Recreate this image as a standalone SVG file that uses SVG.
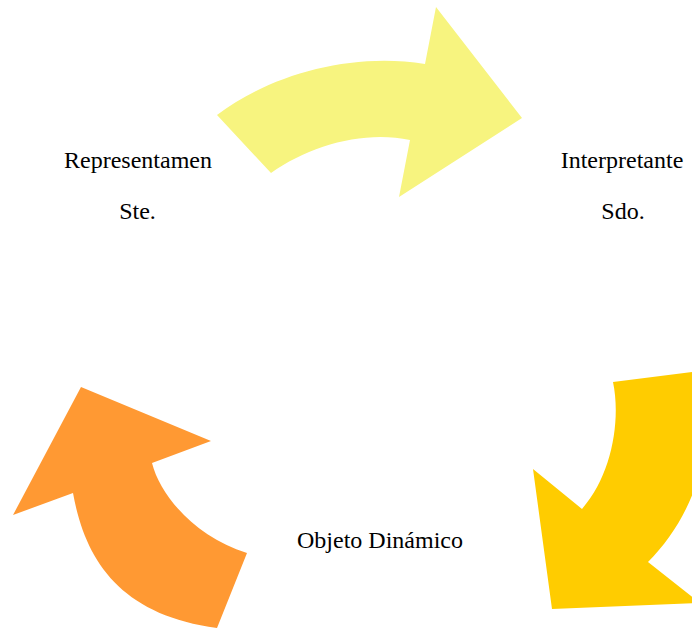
<svg xmlns="http://www.w3.org/2000/svg" width="692" height="630" viewBox="0 0 692 630">
  <style>
    .label { font-family: "Liberation Serif", "Times New Roman", serif; font-size: 24px; fill: #000; text-anchor: middle; }
  </style>
  <rect width="692" height="630" fill="#ffffff"/>
  <!-- curved arrows of the sign cycle -->
  <g id="connectors">
    <path id="arrow-top" fill="#F7F47F" d="M217,115 C270,75 350,52 425,64 L436,7 L522,118 L399,197 L410,140 C365,130 310,145 271,173 Z"/>
    <path id="arrow-right" fill="#FFCC00" d="M613,382 C621,420 612,475 582,509 L533,469 L552,609 L700,603 L648,562 C672,538 692,505 700,470 L700,371 Z"/>
    <path id="arrow-left" fill="#FF9933" d="M81,387 L211,441 L152,463 C160,495 195,537 247,553 L217,628 C120,615 85,560 73,493 L13,515 Z"/>
  </g>
  <g id="representamen">
    <text class="label" x="138" y="168">Representamen</text>
    <text class="label" x="137.5" y="219">Ste.</text>
  </g>
  <g id="interpretante">
    <text class="label" x="622" y="168">Interpretante</text>
    <text class="label" x="623" y="219">Sdo.</text>
  </g>
  <g id="objeto">
    <text class="label" x="380" y="548">Objeto Dinámico</text>
  </g>
</svg>
